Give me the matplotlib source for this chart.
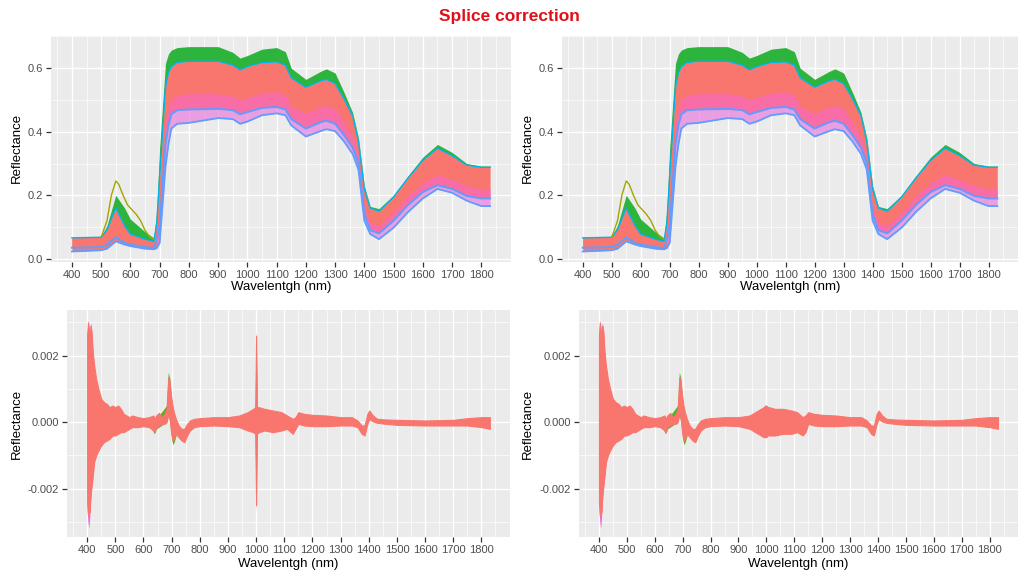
import numpy as np
import matplotlib
matplotlib.use('Agg')
import matplotlib.pyplot as plt
from matplotlib.ticker import MultipleLocator, FixedLocator

plt.rcParams['font.family'] = ['Liberation Sans', 'DejaVu Sans']

W, H = 1018, 575

# reflectance spectra (upper row): envelope curves of the spectra set
wl_top = [400, 500, 520, 550, 580, 600, 650, 680, 690, 700, 720, 730, 740, 760, 800, 900, 950, 975,
          1000, 1050, 1100, 1130, 1150, 1200, 1250, 1270, 1300, 1330, 1360, 1380, 1400, 1420,
          1450, 1500, 1550, 1600, 1650, 1700, 1750, 1800, 1830]
refl_max = [0.068, 0.070, 0.105, 0.200, 0.160, 0.125, 0.085, 0.066, 0.150, 0.350, 0.615, 0.645, 0.657,
            0.665, 0.668, 0.668, 0.650, 0.632, 0.640, 0.660, 0.665, 0.652, 0.600, 0.565, 0.590,
            0.598, 0.585, 0.525, 0.460, 0.380, 0.230, 0.165, 0.158, 0.200, 0.262, 0.320, 0.360,
            0.335, 0.300, 0.292, 0.292]
refl_salmon_top = [0.066, 0.068, 0.092, 0.160, 0.105, 0.078, 0.062, 0.055, 0.110, 0.260, 0.540, 0.585,
                   0.605, 0.618, 0.622, 0.622, 0.610, 0.595, 0.605, 0.618, 0.620, 0.610, 0.570,
                   0.540, 0.560, 0.565, 0.552, 0.505, 0.450, 0.370, 0.220, 0.160, 0.150, 0.195,
                   0.255, 0.310, 0.348, 0.325, 0.295, 0.288, 0.288]
refl_pink = [0.045, 0.048, 0.065, 0.110, 0.075, 0.055, 0.045, 0.040, 0.080, 0.150, 0.430, 0.475, 0.500,
             0.515, 0.520, 0.520, 0.512, 0.500, 0.508, 0.522, 0.526, 0.516, 0.480, 0.458, 0.478,
             0.483, 0.473, 0.432, 0.385, 0.325, 0.165, 0.115, 0.105, 0.145, 0.200, 0.240, 0.265,
             0.250, 0.230, 0.220, 0.220]
refl_blue = [0.035, 0.037, 0.045, 0.068, 0.050, 0.045, 0.037, 0.034, 0.060, 0.100, 0.360, 0.420, 0.455,
             0.468, 0.470, 0.472, 0.468, 0.455, 0.462, 0.475, 0.478, 0.470, 0.440, 0.410, 0.430,
             0.435, 0.425, 0.390, 0.350, 0.300, 0.140, 0.090, 0.080, 0.120, 0.170, 0.210, 0.232,
             0.220, 0.198, 0.190, 0.190]
refl_min = [0.023, 0.027, 0.032, 0.055, 0.045, 0.040, 0.032, 0.030, 0.034, 0.050, 0.290, 0.360, 0.410,
            0.425, 0.428, 0.443, 0.440, 0.425, 0.432, 0.452, 0.458, 0.452, 0.420, 0.385, 0.402,
            0.408, 0.402, 0.370, 0.330, 0.280, 0.120, 0.078, 0.062, 0.098, 0.148, 0.190, 0.220,
            0.208, 0.183, 0.166, 0.166]

# single outlier spectrum around the green peak
wl_olive = [500, 520, 535, 550, 560, 575, 590, 605, 620, 635, 650, 665, 680]
refl_olive = [0.068, 0.120, 0.200, 0.245, 0.235, 0.200, 0.170, 0.155, 0.140, 0.120, 0.090, 0.070, 0.062]

# derivative spectra (lower row): upper / lower envelope
wl_diff = [400, 403, 406, 409, 412, 416, 420, 425, 432, 440, 450, 460, 470, 480, 490, 500, 510,
           520, 530, 540, 550, 560, 580, 600, 620, 635, 640, 645, 655, 665, 675, 682, 688, 693,
           698, 703, 708, 715, 725, 735, 745, 755, 765, 780, 800, 850, 900, 940, 970, 990, 997,
           1000, 1003, 1010, 1030, 1060, 1090, 1110, 1130, 1140, 1150, 1170, 1200, 1250, 1300,
           1340, 1360, 1375, 1385, 1395, 1402, 1415, 1430, 1460, 1500, 1600, 1700, 1750, 1800, 1830]
diff_up_left = [0.0026, 0.0030, 0.0028, 0.0025, 0.0029, 0.0027, 0.0021, 0.0017, 0.0013, 0.0010,
                0.0007, 0.0006, 0.00055, 0.00045, 0.0005, 0.00045, 0.0005, 0.0004, 0.00025, 0.0002,
                0.00015, 0.0002, 0.00015, 0.00012, 0.00015, 0.0002, 0.0001, 0.0002, 0.00028, 0.00015,
                0.00025, 0.0004, 0.00135, 0.0012, 0.0008, 0.0005, 0.0003, 0.0001, -0.0001, -0.0002,
                -0.0002, -0.00005, 0.00005, 0.0001, 0.00012, 0.00015, 0.00015, 0.0002, 0.0003, 0.0004,
                0.00045, 0.0026, 0.00045, 0.00045, 0.0004, 0.00035, 0.0003, 0.0002, 0.0001, 0.00015,
                0.0003, 0.00025, 0.00022, 0.0002, 0.00015, 0.00015, 0.00005, -0.0001, -0.0001, 0.00025,
                0.00035, 0.0002, 0.0001, 0.00008, 0.00007, 0.00005, 0.00007, 0.00012, 0.00015, 0.00015]
diff_low_left = [-0.0024, -0.0028, -0.0026, -0.0027, -0.0022, -0.0019, -0.0016, -0.0012, -0.0010,
                 -0.00085, -0.0007, -0.0006, -0.00055, -0.0005, -0.0004, -0.0004, -0.00035, -0.0003,
                 -0.0003, -0.00025, -0.0002, -0.00015, -0.00015, -0.00012, -0.00015, -0.00025,
                 -0.0003, -0.00015, -0.0001, -0.00005, -0.00005, 0.0, 0.00025, 0.0001, -0.0003,
                 -0.00055, -0.0005, -0.00035, -0.00045, -0.00055, -0.0006, -0.0004, -0.00025,
                 -0.00015, -0.00012, -0.0001, -0.00012, -0.00015, -0.00025, -0.0003, -0.00035,
                 -0.0025, -0.00035, -0.0003, -0.00025, -0.0003, -0.00025, -0.0002, -0.00035, -0.0002,
                 -0.00005, -0.0001, -0.00012, -0.00012, -0.0001, -0.0001, -0.00015, -0.00035,
                 -0.0004, -0.00005, 0.0001, 0.00002, -0.00002, -0.00005, -0.00008, -0.0001, -0.0001,
                 -0.0001, -0.00015, -0.0002]
diff_up_right = [0.0026, 0.0030, 0.0028, 0.0025, 0.0029, 0.0027, 0.0021, 0.0017, 0.0013, 0.0010,
                 0.0007, 0.0006, 0.00055, 0.00045, 0.0005, 0.00045, 0.0005, 0.0004, 0.00025, 0.0002,
                 0.00015, 0.0002, 0.00015, 0.00012, 0.00015, 0.0002, 0.0001, 0.0002, 0.00028, 0.00015,
                 0.00025, 0.0004, 0.00135, 0.0012, 0.0008, 0.0005, 0.0003, 0.0001, -0.0001, -0.0002,
                 -0.0002, -0.00005, 0.00005, 0.0001, 0.00012, 0.00015, 0.00015, 0.0002, 0.00035, 0.00045,
                 0.0005, 0.0005, 0.00045, 0.00045, 0.0004, 0.0004, 0.00035, 0.0003, 0.00015, 0.0002,
                 0.0003, 0.00025, 0.00022, 0.0002, 0.00015, 0.00015, 0.00005, -0.0001, -0.0001, 0.00025,
                 0.00035, 0.0002, 0.0001, 0.00008, 0.00007, 0.00005, 0.00007, 0.00012, 0.00015, 0.00015]
diff_low_right = [-0.0024, -0.0028, -0.0026, -0.0027, -0.0022, -0.0019, -0.0016, -0.0012, -0.0010,
                  -0.00085, -0.0007, -0.0006, -0.00055, -0.0005, -0.0004, -0.0004, -0.00035, -0.0003,
                  -0.0003, -0.00025, -0.0002, -0.00015, -0.00015, -0.00012, -0.00015, -0.00025,
                  -0.0003, -0.00015, -0.0001, -0.00005, -0.00005, 0.0, 0.00025, 0.0001, -0.0003,
                  -0.00055, -0.0005, -0.00035, -0.00045, -0.00055, -0.0006, -0.0004, -0.00025,
                  -0.00015, -0.00012, -0.0001, -0.00012, -0.0002, -0.00035, -0.00045, -0.00045,
                  -0.00045, -0.0004, -0.0004, -0.0004, -0.00035, -0.00035, -0.0003, -0.0004, -0.0003,
                  -0.00005, -0.0001, -0.00012, -0.00012, -0.0001, -0.0001, -0.00015, -0.00035,
                  -0.0004, -0.00005, 0.0001, 0.00002, -0.00002, -0.00005, -0.00008, -0.0001, -0.0001,
                  -0.0001, -0.00015, -0.0002]

# pink edges of the noisy start, and the spike at 1000 nm (left only)
wl_edge = [400, 403, 406, 409, 412, 416, 420, 425]
edge_up = [0.0027, 0.00305, 0.0029, 0.0026, 0.0030, 0.0028, 0.0022, 0.0017]
edge_low = [-0.0026, -0.0030, -0.0032, -0.0029, -0.0024, -0.0020, -0.0017, -0.0012]
wl_spike = [996, 1000, 1004]
spike_up = [0.0004, 0.0028, 0.0004]
spike_low = [-0.0003, -0.0027, -0.0003]
# green / olive spectra at the red edge
wl_green = [630, 638, 646, 682, 688, 694, 699, 704, 709, 716]
green_up = [-0.0001, -0.0002, 0.0001, 0.0005, 0.0015, 0.0013, 0.0006, 0.0001, -0.0002, -0.0004]
green_low = [-0.0002, -0.00035, -0.0002, 0.0, 0.0002, 0.0, -0.0004, -0.00068, -0.0006, -0.0004]

SALMON = '#F8766D'
GREEN = '#2DB43C'
PINK = '#F96AB8'
BLUE = '#619CFF'
MAGENTA = '#F564E3'


def px_axes(fig, left, top, right, bottom):
    return fig.add_axes([left / W, 1 - bottom / H, (right - left) / W, (bottom - top) / H])


def gg_style(ax):
    ax.set_facecolor('#EBEBEB')
    for s in ax.spines.values():
        s.set_visible(False)
    ax.set_axisbelow(True)
    ax.grid(which='major', color='white', lw=1.0)
    ax.grid(which='minor', color='white', lw=0.5)
    ax.tick_params(which='major', length=3.5, width=0.9, color='#333333',
                   labelcolor='#4D4D4D', labelsize=8, pad=2)
    ax.tick_params(which='minor', length=0)
    ax.set_xlim(328.5, 1901.5)
    ax.xaxis.set_major_locator(MultipleLocator(100))
    ax.xaxis.set_minor_locator(MultipleLocator(50))
    ax.set_xticks(range(400, 1801, 100))


def draw_spectra(ax):
    wl = np.array(wl_top)
    early = wl <= 700
    late = wl >= 690
    ax.fill_between(wl, refl_salmon_top, refl_max, color=GREEN, lw=0)
    ax.fill_between(wl, refl_min, refl_salmon_top, where=early, color=SALMON, lw=0)
    ax.fill_between(wl, refl_blue, refl_salmon_top, color=SALMON, lw=0)
    ax.fill_between(wl, refl_blue, refl_pink, where=late, color=PINK, alpha=0.75, lw=0)
    ax.fill_between(wl, refl_min, refl_blue, where=late, color='#E77EDC', alpha=0.7, lw=0)
    ax.plot(wl, refl_salmon_top, color='#00B4E8', lw=1.0)
    ax.plot(wl, refl_blue, color=BLUE, lw=1.4)
    ax.plot(wl, refl_min, color=BLUE, lw=1.3)
    ax.plot(wl_olive, refl_olive, color='#A3A500', lw=1.0)
    ax.set_ylim(-0.010, 0.703)
    ax.yaxis.set_major_locator(FixedLocator([0.0, 0.2, 0.4, 0.6]))
    ax.yaxis.set_minor_locator(MultipleLocator(0.1))
    ax.set_yticklabels(['0.0', '0.2', '0.4', '0.6'])


def draw_diff(ax, up, low, spike):
    ax.fill_between(wl_edge, edge_low, edge_up, color=MAGENTA, lw=0)
    if spike:
        ax.fill_between(wl_spike, spike_low, spike_up, color=MAGENTA, lw=0)
    ax.fill_between(wl_green, green_low, green_up, color='#58B020', lw=0)
    ax.fill_between(wl_diff, low, up, color=SALMON, lw=0.8, edgecolor=SALMON)
    ax.set_ylim(-0.00345, 0.00337)
    ax.yaxis.set_major_locator(FixedLocator([-0.002, 0.0, 0.002]))
    ax.yaxis.set_minor_locator(MultipleLocator(0.001))
    ax.set_yticklabels(['-0.002', '0.000', '0.002'])


fig = plt.figure(figsize=(W / 100, H / 100), dpi=100)
fig.patch.set_facecolor('white')

panels = [
    (px_axes(fig, 51, 35.5, 511, 262), 'spec', None),
    (px_axes(fig, 562, 35.5, 1018, 262), 'spec', None),
    (px_axes(fig, 67, 310, 510, 537), 'diff', (diff_up_left, diff_low_left, True)),
    (px_axes(fig, 579, 310, 1018, 537), 'diff', (diff_up_right, diff_low_right, False)),
]
for ax, kind, args in panels:
    gg_style(ax)
    if kind == 'spec':
        draw_spectra(ax)
    else:
        draw_diff(ax, *args)

label_kw = dict(fontsize=9.5, color='black')
for x, y in [(281, 287), (790, 287), (288, 564), (798, 564)]:
    fig.text(x / W, 1 - y / H, 'Wavelentgh (nm)', ha='center', va='center', **label_kw)
for x, y in [(17, 148), (528, 148), (17, 424), (528, 424)]:
    fig.text(x / W, 1 - y / H, 'Reflectance', ha='center', va='center', rotation=90, **label_kw)

fig.text(509 / W, 1 - 17 / H, 'Splice correction', ha='center', va='center',
         fontsize=12.5, fontweight='bold', color='#E0101A')

fig.savefig('out.png', dpi=100)
